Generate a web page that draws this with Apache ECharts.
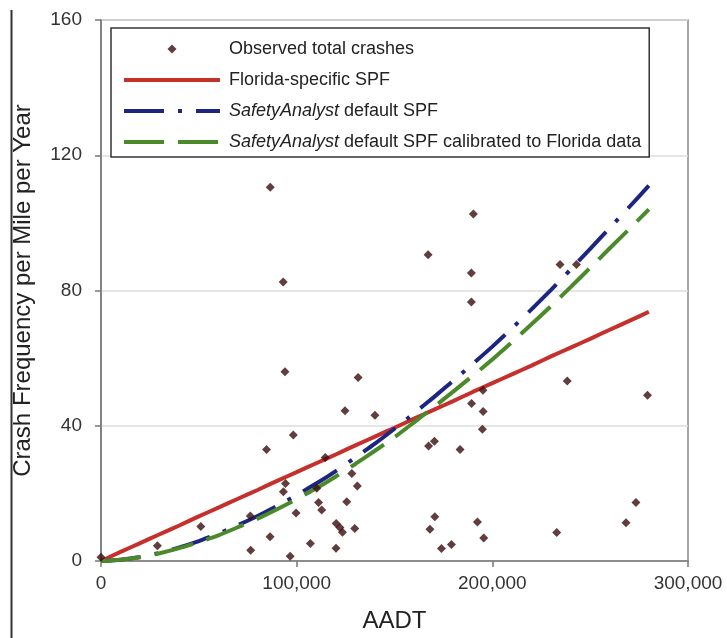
<!DOCTYPE html>
<html>
<head>
<meta charset="utf-8">
<script src="https://cdn.jsdelivr.net/npm/echarts@6/dist/echarts.min.js"></script>
<style>
html,body{margin:0;padding:0;background:#fff;}
#chart{width:727px;height:638px;}
</style>
</head>
<body>
<div id="chart"></div>
<script>
// ---- data ----
const xTicks = [0, 100000, 200000, 300000];
const yTicks = [0, 40, 80, 120, 160];

// observed total crashes: AADT, crashes per mile per year
const obsAADT = [0, 28800, 51000, 76500, 76300, 84600, 86400, 86500, 93100, 93200,
  94300, 94000, 96700, 98300, 99700, 107000, 110300, 111200, 112800, 114600,
  120200, 120100, 122100, 123400, 124700, 125600, 128200, 129700, 131000, 131400,
  140000, 167200, 167400, 170400, 168100, 170600, 174000, 179100, 183500, 189300,
  189300, 190300, 189400, 192400, 195200, 195300, 194900, 195600, 232900, 234600,
  243000, 238300, 268300, 273400, 279300];
const obsCrash = [1.1, 4.5, 10.2, 3.2, 13.3, 33, 7.2, 110.5, 82.5, 20.5,
  22.9, 56, 1.4, 37.3, 14.2, 5.2, 21.5, 17.3, 15.1, 30.6,
  11.1, 3.8, 9.9, 8.5, 44.4, 17.5, 25.9, 9.6, 22.2, 54.3,
  43.1, 90.6, 34, 35.4, 9.4, 13.1, 3.7, 4.9, 33, 85.2,
  76.6, 102.6, 46.6, 11.5, 50.5, 44.2, 39, 6.8, 8.4, 87.7,
  87.7, 53.2, 11.3, 17.3, 49];

// SPF curves read at AADT steps
const curveAADT = [0, 10000, 20000, 30000, 40000, 50000, 60000, 70000, 80000, 90000,
  100000, 110000, 120000, 130000, 140000, 150000, 160000, 170000, 180000, 190000,
  200000, 210000, 220000, 230000, 240000, 250000, 260000, 270000, 280000];
const floridaSPF = [0, 2.7, 5.3, 7.9, 10.5, 13.2, 15.8, 18.4, 21.0, 23.7,
  26.3, 28.9, 31.5, 34.2, 36.8, 39.4, 42.1, 44.7, 47.3, 50.0,
  52.6, 55.2, 57.8, 60.5, 63.1, 65.7, 68.4, 71.0, 73.7];
const defaultSPF = [0, 0.4, 1.2, 2.4, 4.0, 5.9, 8.1, 10.6, 13.3, 16.3,
  19.5, 22.9, 26.6, 30.6, 34.7, 39.1, 43.7, 48.4, 53.3, 58.3,
  63.4, 68.8, 74.4, 80.2, 86.2, 92.3, 98.5, 104.7, 111.0];
const calibratedSPF = [0, 0.4, 1.1, 2.3, 3.8, 5.6, 7.6, 10.0, 12.5, 15.3,
  18.3, 21.5, 25.0, 28.7, 32.6, 36.6, 41.0, 45.5, 50.1, 54.8,
  59.6, 64.7, 70.0, 75.4, 81.0, 86.7, 92.5, 98.2, 104.0];

const seriesNames = ['Observed total crashes', 'Florida-specific SPF',
  'SafetyAnalyst default SPF', 'SafetyAnalyst default SPF calibrated to Florida data'];

// ---- build ----
const pairs = (xs, ys) => xs.map((x, i) => [x, ys[i]]);
const FONT = '"Liberation Sans", Arial, sans-serif';
const RED = '#c5302c', BLUE = '#1d2580', GREEN = '#4a8a2a', PT = '#3a0c0c';
const DASHDOT = [40, 14, 4, 14];
const DASH = [40, 14];
const HIDE = {opacity: 0, color: 'transparent', borderWidth: 0};

const chart = echarts.init(document.getElementById('chart'), null, {renderer: 'canvas'});
chart.setOption({
  animation: false,
  backgroundColor: '#fff',
  textStyle: {fontFamily: FONT},
  grid: {left: 101, right: 39, top: 20, bottom: 76, show: true, borderColor: '#888', borderWidth: 1.5, backgroundColor: 'transparent'},
  graphic: [{
    type: 'line', shape: {x1: 11.5, y1: 10, x2: 11.5, y2: 638},
    style: {stroke: '#333', lineWidth: 2}, z: 10
  }],
  legend: {
    orient: 'vertical', left: 111, top: 28,
    padding: [12, 8, 6, 11], itemGap: 13, itemWidth: 96, itemHeight: 14,
    backgroundColor: '#fff', borderColor: '#333', borderWidth: 1.5, borderRadius: 0,
    selectedMode: false,
    textStyle: {fontFamily: FONT, fontSize: 18, color: '#222', padding: [0, 0, 0, 4],
      rich: {i: {fontFamily: FONT, fontSize: 18, fontStyle: 'italic', color: '#222'},
             n: {fontFamily: FONT, fontSize: 18, color: '#222'}}},
    formatter: function (name) {
      if (name.indexOf('SafetyAnalyst') === 0) {
        return '{i|SafetyAnalyst}{n|' + name.slice('SafetyAnalyst'.length) + '}';
      }
      return '{n|' + name + '}';
    },
    data: [
      {name: seriesNames[0], icon: 'path://M0,0M96,0M96,14M0,14M48,2.5L52.5,7L48,11.5L43.5,7Z', itemStyle: {color: PT}},
      {name: seriesNames[1], itemStyle: HIDE, lineStyle: {color: RED, width: 4, type: 'solid'}},
      {name: seriesNames[2], itemStyle: HIDE, lineStyle: {color: BLUE, width: 4, type: DASHDOT}},
      {name: seriesNames[3], itemStyle: HIDE, lineStyle: {color: GREEN, width: 4, type: DASH}}
    ]
  },
  xAxis: {
    type: 'value', min: 0, max: 300000, interval: 100000,
    name: 'AADT', nameLocation: 'middle', nameGap: 48,
    nameTextStyle: {fontFamily: FONT, fontSize: 24, color: '#222'},
    axisLine: {show: true, lineStyle: {color: '#777', width: 1.5}},
    axisTick: {show: true, inside: false, length: 6, lineStyle: {color: '#777', width: 1.5}},
    axisLabel: {fontFamily: FONT, fontSize: 19, color: '#333', margin: 13,
      formatter: v => v.toLocaleString('en-US')},
    splitLine: {show: false}
  },
  yAxis: {
    type: 'value', min: 0, max: 160, interval: 40,
    name: 'Crash Frequency per Mile per Year', nameLocation: 'middle', nameGap: 66,
    nameTextStyle: {fontFamily: FONT, fontSize: 24, color: '#222'},
    axisLine: {show: true, lineStyle: {color: '#777', width: 1.5}},
    axisTick: {show: true, inside: false, length: 6, lineStyle: {color: '#777', width: 1.5}},
    axisLabel: {fontFamily: FONT, fontSize: 19, color: '#333', margin: 19},
    splitLine: {show: true, lineStyle: {color: '#ddd', width: 1.5}}
  },
  series: [
    {name: seriesNames[1], type: 'line', data: pairs(curveAADT, floridaSPF), symbol: 'none', smooth: 0.2,
      lineStyle: {color: RED, width: 4, type: 'solid'}, itemStyle: {color: RED}, z: 2},
    {name: seriesNames[2], type: 'line', data: pairs(curveAADT, defaultSPF), symbol: 'none', smooth: 0.2,
      lineStyle: {color: BLUE, width: 4, type: DASHDOT}, itemStyle: {color: BLUE}, z: 3},
    {name: seriesNames[3], type: 'line', data: pairs(curveAADT, calibratedSPF), symbol: 'none', smooth: 0.2,
      lineStyle: {color: GREEN, width: 4, type: DASH}, itemStyle: {color: GREEN}, z: 3},
    {name: seriesNames[0], type: 'scatter', data: pairs(obsAADT, obsCrash), symbol: 'diamond', symbolSize: 9,
      itemStyle: {color: PT}, z: 4}
  ]
});
</script>
</body>
</html>
